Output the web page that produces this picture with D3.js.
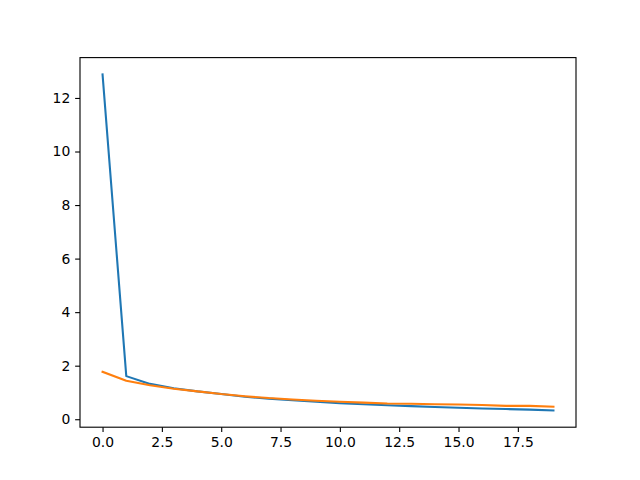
<!DOCTYPE html>
<html><head><meta charset="utf-8">
<script src="https://cdn.jsdelivr.net/npm/d3@7"></script>
<style>body{margin:0;background:#fff}svg{display:block}</style>
</head><body><svg id="c" width="640" height="480"></svg>
<script>
const epochs = d3.range(20);
const seriesA = [12.88,1.61,1.32,1.16,1.04,0.94,0.84,0.77,0.71,0.65,0.60,0.56,0.52,0.49,0.46,0.43,0.40,0.38,0.36,0.33];
const seriesB = [1.77,1.44,1.27,1.14,1.04,0.94,0.86,0.79,0.74,0.69,0.65,0.62,0.59,0.58,0.56,0.55,0.53,0.50,0.50,0.47];
const xTicks = [0,2.5,5,7.5,10,12.5,15,17.5];
const yTicks = [0,2,4,6,8,10,12];
const colors = ["#1f77b4","#ff7f0e"];

const svg = d3.select("#c");
const L=80,R=576,T=57.6,B=427.2;
const all = seriesA.concat(seriesB);
const ymin=d3.min(all), ymax=d3.max(all), yp=(ymax-ymin)*0.05;
const x = d3.scaleLinear().domain([-0.95,19.95]).range([L,R]);
const y = d3.scaleLinear().domain([ymin-yp,ymax+yp]).range([B,T]);

const line = d3.line().x((d,i)=>x(epochs[i])).y(d=>y(d));
[seriesA,seriesB].forEach((s,k)=>{
  svg.append("path").datum(s).attr("d",line).attr("fill","none")
    .attr("stroke",colors[k]).attr("stroke-width",2.08).attr("stroke-linecap","square").attr("stroke-linejoin","round");
});

const xa = svg.append("g").attr("transform",`translate(0,${B})`)
  .call(d3.axisBottom(x).tickValues(xTicks).tickFormat(d3.format(".1f")).tickSize(4.86).tickPadding(4.86));
const ya = svg.append("g").attr("transform",`translate(${L},0)`)
  .call(d3.axisLeft(y).tickValues(yTicks).tickFormat(d3.format("d")).tickSize(4.86).tickPadding(4.86));
[xa,ya].forEach(a=>{a.select(".domain").remove();a.selectAll("line").attr("stroke","#000").attr("stroke-width",1.11);
  a.selectAll("text").attr("font-size","13.9px").attr("font-family","DejaVu Sans").attr("fill","#000");});
svg.append("rect").attr("x",L).attr("y",T).attr("width",R-L).attr("height",B-T)
  .attr("fill","none").attr("stroke","#000").attr("stroke-width",1.11);
</script></body></html>
